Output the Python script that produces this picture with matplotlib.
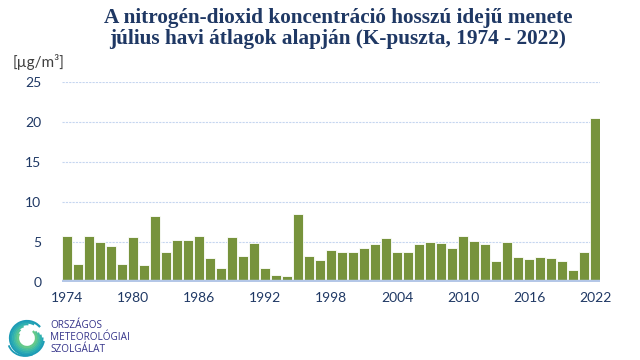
import numpy as np
import matplotlib.pyplot as plt
from matplotlib.patches import Arc

years = list(range(1974, 2023))
no2_july = [
    5.8, 2.3, 5.7, 5.0, 4.5, 2.3, 5.6, 2.1, 8.2, 3.8,
    5.3, 5.2, 5.8, 3.0, 1.7, 5.6, 3.3, 4.9, 1.8, 0.9,
    0.8, 8.5, 3.3, 2.8, 4.0, 3.8, 3.8, 4.2, 4.7, 5.5,
    3.7, 3.8, 4.8, 5.0, 4.9, 4.3, 5.8, 5.1, 4.8, 2.6,
    5.0, 3.1, 2.9, 3.1, 3.0, 2.6, 1.5, 3.7, 20.5,
]
tick_years = list(range(1974, 2023, 6))
y_ticks = [0, 5, 10, 15, 20, 25]

PALETTE = {
    'bar':      '#77933c',
    'baseline': '#b4c7e7',
    'grid':     '#c6d6f0',
    'tick':     '#1f3864',
    'title':    '#1f3864',
    'unit':     '#404040',
    'logo_txt': '#35348a',
}

fig = plt.figure(figsize=(6.4, 3.6), dpi=100)
fig.patch.set_facecolor('white')
ax = fig.add_axes([62 / 640, 1 - 282 / 360, 538 / 640, 200 / 360])

ax.bar(years, no2_july, width=0.86, color=PALETTE['bar'],
       edgecolor='white', linewidth=0.6, zorder=2)
ax.axhline(0, color=PALETTE['baseline'], linewidth=3.2, zorder=3)

ax.set_xlim(1974 - 5 / 11, 2022 + 5 / 11)
ax.set_ylim(0, 25)
ax.set_yticks(y_ticks)
ax.set_xticks(tick_years)
ax.yaxis.grid(True, color=PALETTE['grid'], linestyle=(0, (2, 1)), linewidth=0.8)
ax.set_axisbelow(True)
for spine in ax.spines.values():
    spine.set_visible(False)
ax.tick_params(length=0, labelsize=10, colors=PALETTE['tick'])
ax.tick_params(axis='y', pad=15)
ax.tick_params(axis='x', pad=7)
for lbl in ax.get_xticklabels() + ax.get_yticklabels():
    lbl.set_family('Lato')

# title and unit
fig.text(0.528, 0.978, 'A nitrogén-dioxid koncentráció hosszú idejű menete\n'
         'július havi átlagok alapján (K-puszta, 1974 - 2022)',
         ha='center', va='top', fontsize=15.3, fontweight='bold',
         family='Liberation Serif', color=PALETTE['title'], linespacing=1.1)
fig.text(13 / 640, 1 - 62 / 360, '[µg/m³]', ha='left', va='center',
         fontsize=11, family='Lato', color=PALETTE['unit'])

# logo: swirl + agency name
lax = fig.add_axes([2 / 640, -3 / 360, 50 / 640, 50 / 360])
lax.set_xlim(-25, 25)
lax.set_ylim(-25, 25)
lax.set_aspect('equal')
lax.axis('off')
swirl_cols = ['#1d9bb5', '#25a5b5', '#30b0b0', '#3fbaa6', '#52c298', '#66c98a']
for i, c in enumerate(swirl_cols):
    r = 17 - i * 1.6
    lax.add_patch(Arc((0, 0), 2 * r, 2 * r, theta1=40 + i * 22, theta2=350 + i * 12,
                      color=c, linewidth=1.6))
lax.add_patch(Arc((-2, -3), 34, 30, theta1=195, theta2=300, color='#1d9bb5', linewidth=1.3))

for k, line in enumerate(['ORSZÁGOS', 'METEOROLÓGIAI', 'SZOLGÁLAT']):
    fig.text(50 / 640, 1 - (326 + k * 11.5) / 360, line, ha='left', va='center',
             fontsize=7.2, family='Open Sans', color=PALETTE['logo_txt'])

fig.savefig('out.png', dpi=100)
